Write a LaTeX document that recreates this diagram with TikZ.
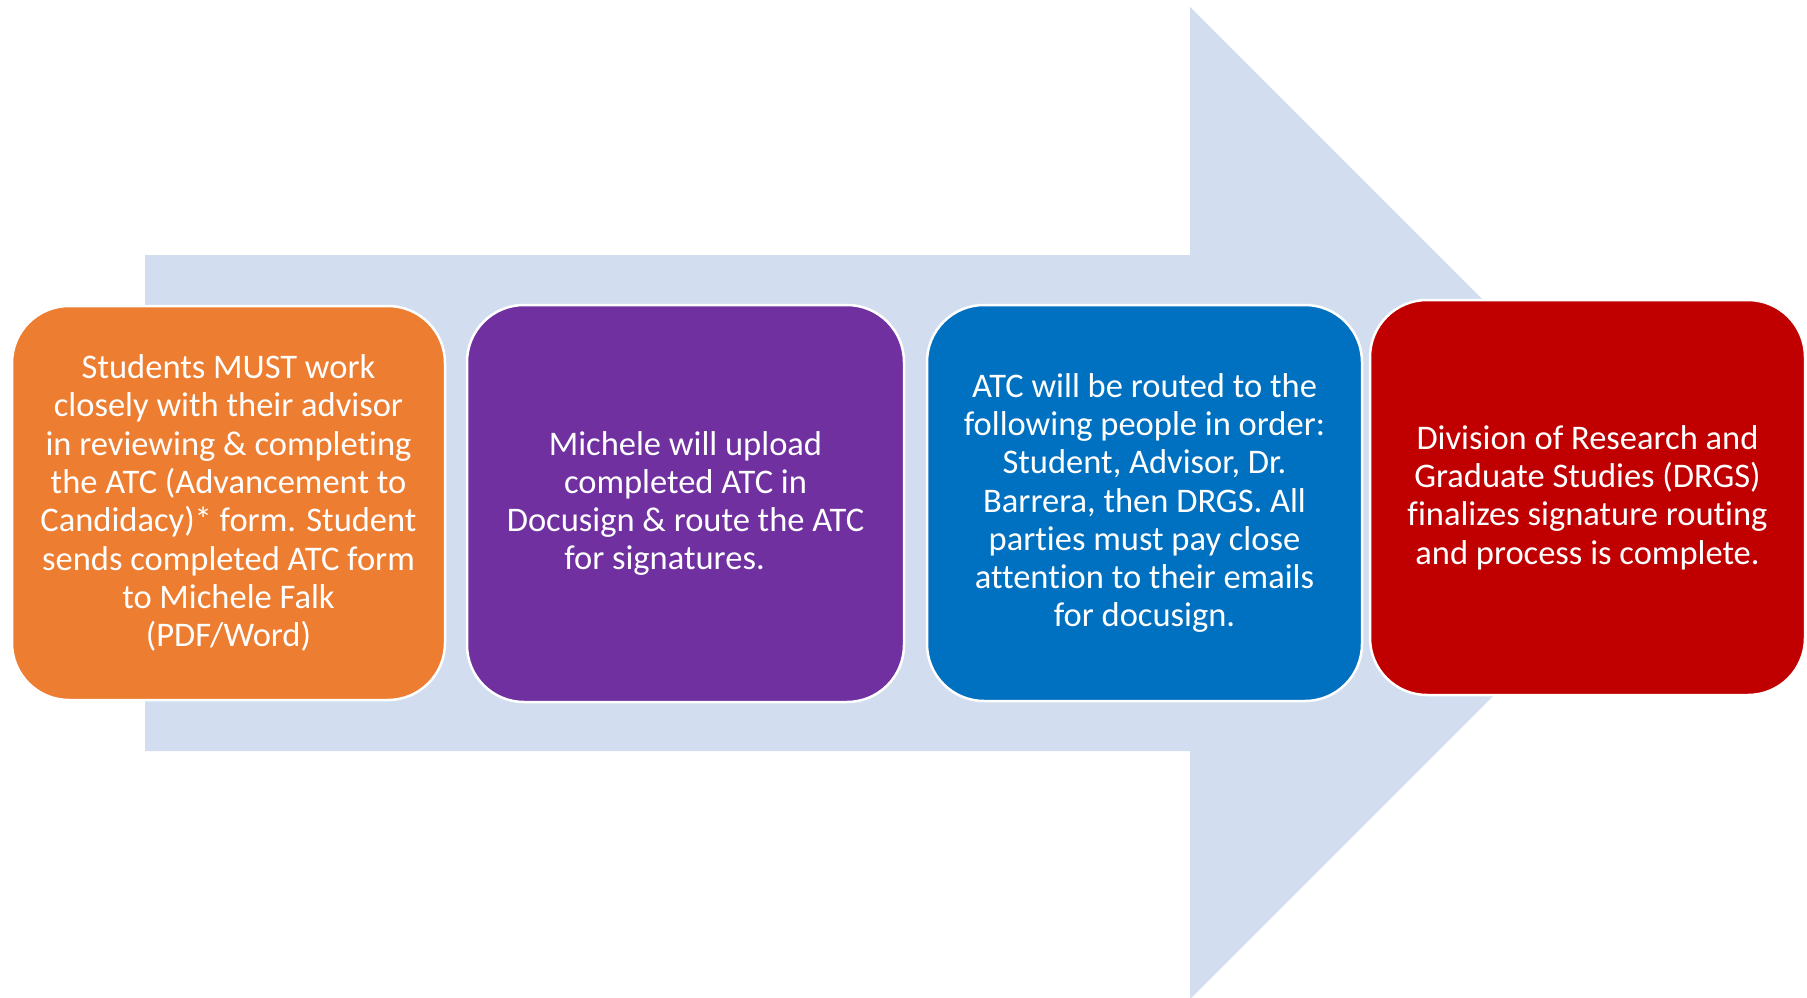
\documentclass[tikz,border=0pt]{standalone}
\usepackage{fontspec}
\setmainfont{Carlito}[RawFeature=-liga]
\definecolor{arrowbg}{HTML}{D2DEEF}
\definecolor{boxorange}{HTML}{ED7D31}
\definecolor{boxpurple}{HTML}{7030A0}
\definecolor{boxblue}{HTML}{0070C0}
\definecolor{boxred}{HTML}{C00000}
\begin{document}
\begin{tikzpicture}[x=1pt,y=-1pt,
  stepbox/.style={draw=white, line width=2.5pt, rounded corners=57pt,
    inner sep=0pt, align=center, text=white,
    font=\fontsize{34.5}{38.3}\selectfont},
  bigarrow/.style={fill=arrowbg, draw=none}]
\useasboundingbox (0,0) rectangle (1807,998);
\fill[white] (0,0) rectangle (1807,998);
% big background arrow
\path[bigarrow] (145,255) -- (1190,255) -- (1190,7) -- (1686,503) -- (1190,999) -- (1190,751) -- (145,751) -- cycle;
% boxes
\node[stepbox, fill=boxorange, minimum width=433pt, minimum height=394pt] (s1) at (228.5,503)
  {Students MUST work\\closely with their advisor\\in reviewing \& completing\\the ATC (Advancement to\\Candidacy)* form. Student\\sends completed ATC form\\to Michele Falk\\(PDF/Word)};
\node[stepbox, fill=boxpurple, minimum width=437pt, minimum height=397pt] (s2) at (685.5,503.5)
  {Michele will upload\\completed ATC in\\Docusign \& route the ATC\\for signatures.\hspace*{42pt}};
\node[stepbox, fill=boxblue, minimum width=435pt, minimum height=396pt] (s3) at (1144.5,503)
  {ATC will be routed to the\\following people in order:\\Student, Advisor, Dr.\\Barrera, then DRGS. All\\parties must pay close\\attention to their emails\\for docusign.};
\node[stepbox, fill=boxred, minimum width=435pt, minimum height=395pt] (s4) at (1587.5,497.5)
  {Division of Research and\\Graduate Studies (DRGS)\\finalizes signature routing\\and process is complete.};
\end{tikzpicture}
\end{document}
